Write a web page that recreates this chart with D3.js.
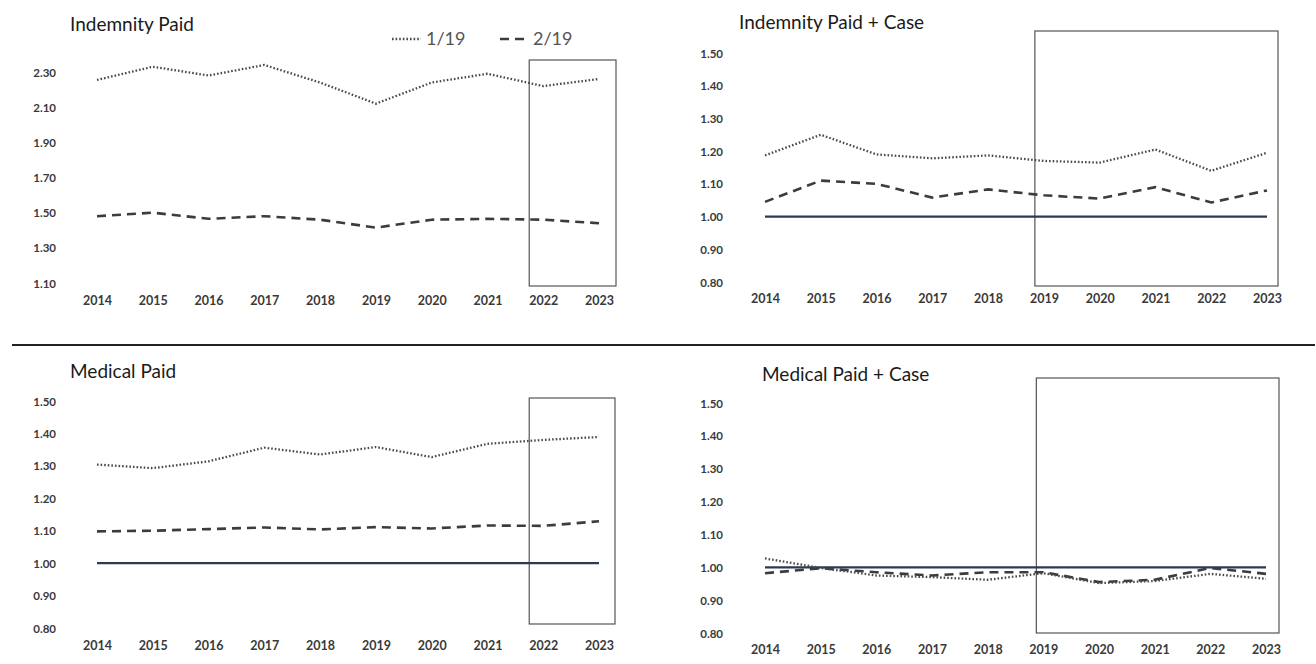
<!DOCTYPE html>
<html>
<head>
<meta charset="utf-8">
<script src="https://cdn.jsdelivr.net/npm/d3@7"></script>
<style>
  html, body { margin: 0; padding: 0; background: #ffffff; }
  svg { display: block; }
</style>
</head>
<body>
<svg id="chart" width="1316" height="664"></svg>
<script>
// ---------- DATA ----------
const years = [2014, 2015, 2016, 2017, 2018, 2019, 2020, 2021, 2022, 2023];
const seriesNames = ["1/19", "2/19"];

const indemPaid_119 = [2.255, 2.33, 2.28, 2.34, 2.24, 2.12, 2.24, 2.29, 2.22, 2.26];
const indemPaid_219 = [1.48, 1.50, 1.465, 1.48, 1.46, 1.415, 1.46, 1.465, 1.46, 1.44];

const indemCase_119 = [1.187, 1.25, 1.19, 1.178, 1.187, 1.17, 1.165, 1.205, 1.14, 1.195];
const indemCase_219 = [1.045, 1.11, 1.10, 1.058, 1.083, 1.065, 1.055, 1.09, 1.043, 1.08];

const medPaid_119 = [1.304, 1.293, 1.314, 1.356, 1.335, 1.358, 1.327, 1.368, 1.38, 1.389];
const medPaid_219 = [1.098, 1.10, 1.105, 1.11, 1.104, 1.111, 1.107, 1.116, 1.115, 1.129];

const medCase_119 = [1.027, 0.998, 0.975, 0.97, 0.962, 0.982, 0.952, 0.958, 0.98, 0.965];
const medCase_219 = [0.982, 0.997, 0.985, 0.975, 0.985, 0.985, 0.955, 0.962, 0.998, 0.98];

const ticksIndemPaid = [1.10, 1.30, 1.50, 1.70, 1.90, 2.10, 2.30];
const ticksOther = [0.80, 0.90, 1.00, 1.10, 1.20, 1.30, 1.40, 1.50];

const titles = ["Indemnity Paid", "Indemnity Paid + Case", "Medical Paid", "Medical Paid + Case"];
const baselineValue = 1.00;

// ---------- LAYOUT ----------
const svg = d3.select("#chart");
const FONT = "Lato, 'Open Sans', 'DejaVu Sans', sans-serif";

const panels = [
  { title: titles[0], titleX: 70, titleY: 31, s1: indemPaid_119, s2: indemPaid_219, ticks: ticksIndemPaid,
    domain: [1.10, 2.30], x0: 97, x1: 599, yBot: 283, yTop: 72, tickRight: 56, xLabelY: 308,
    baseline: false, boxYear: 2022, boxL: -14, boxR: 17, boxTop: 60, boxBot: 286, legend: true },
  { title: titles[1], titleX: 739, titleY: 29, s1: indemCase_119, s2: indemCase_219, ticks: ticksOther,
    domain: [0.80, 1.50], x0: 765, x1: 1267, yBot: 282, yTop: 53, tickRight: 723, xLabelY: 306,
    baseline: true, boxYear: 2019, boxL: -9, boxR: 11, boxTop: 31, boxBot: 286, legend: false },
  { title: titles[2], titleX: 70, titleY: 378, s1: medPaid_119, s2: medPaid_219, ticks: ticksOther,
    domain: [0.80, 1.50], x0: 97, x1: 599, yBot: 628, yTop: 401, tickRight: 56, xLabelY: 653,
    baseline: true, boxYear: 2022, boxL: -14, boxR: 16, boxTop: 398, boxBot: 624, legend: false },
  { title: titles[3], titleX: 762, titleY: 381, s1: medCase_119, s2: medCase_219, ticks: ticksOther,
    domain: [0.80, 1.50], x0: 765, x1: 1266, yBot: 633, yTop: 403, tickRight: 723, xLabelY: 657,
    baseline: true, boxYear: 2019, boxL: -7, boxR: 13, boxTop: 378, boxBot: 633, legend: false }
];

const styles = {
  dotted: { stroke: "#4a4a4a", width: 2.3, dash: "1.6,2.0" },
  dashed: { stroke: "#3c3c3c", width: 2.6, dash: "9,6" },
  solid:  { stroke: "#2e3857", width: 2.2 }
};

// separator line
svg.append("line")
  .attr("x1", 12).attr("x2", 1315)
  .attr("y1", 345).attr("y2", 345)
  .attr("stroke", "#222").attr("stroke-width", 2);

panels.forEach(p => {
  const g = svg.append("g");
  const x = d3.scalePoint().domain(years).range([p.x0, p.x1]);
  const y = d3.scaleLinear().domain(p.domain).range([p.yBot, p.yTop]);

  // title
  g.append("text")
    .attr("x", p.titleX).attr("y", p.titleY)
    .attr("font-family", FONT).attr("font-size", 19)
    .attr("fill", "#1a1a1a")
    .text(p.title);

  // y axis labels
  const yAxis = d3.axisLeft(y).tickValues(p.ticks).tickFormat(d3.format(".2f")).tickSize(0).tickPadding(0);
  const ya = g.append("g").attr("transform", `translate(${p.tickRight},0)`).call(yAxis);
  ya.select(".domain").remove();
  ya.selectAll("text")
    .attr("font-family", FONT).attr("font-size", 11.5).attr("font-weight", "bold")
    .attr("fill", "#3a3a3a").attr("dy", "0.35em");

  // x axis labels
  const xAxis = d3.axisBottom(x).tickSize(0).tickPadding(0).tickFormat(d3.format("d"));
  const xa = g.append("g").attr("transform", `translate(0,${p.xLabelY - 12})`).call(xAxis);
  xa.select(".domain").remove();
  xa.selectAll("text")
    .attr("font-family", FONT).attr("font-size", 12.5).attr("font-weight", "bold")
    .attr("fill", "#3a3a3a");

  // highlight box
  const bx0 = x(p.boxYear) + p.boxL;
  const bx1 = x(years[years.length - 1]) + p.boxR;
  g.append("rect")
    .attr("x", bx0).attr("y", p.boxTop)
    .attr("width", bx1 - bx0).attr("height", p.boxBot - p.boxTop)
    .attr("fill", "none").attr("stroke", "#555").attr("stroke-width", 1.2);

  const line = d3.line().x((d, i) => x(years[i])).y(d => y(d));

  if (p.baseline) {
    g.append("path")
      .datum(years.map(() => baselineValue))
      .attr("d", line)
      .attr("fill", "none")
      .attr("stroke", styles.solid.stroke)
      .attr("stroke-width", styles.solid.width);
  }

  g.append("path")
    .datum(p.s2)
    .attr("d", line)
    .attr("fill", "none")
    .attr("stroke", styles.dashed.stroke)
    .attr("stroke-width", styles.dashed.width)
    .attr("stroke-dasharray", styles.dashed.dash);

  g.append("path")
    .datum(p.s1)
    .attr("d", line)
    .attr("fill", "none")
    .attr("stroke", styles.dotted.stroke)
    .attr("stroke-width", styles.dotted.width)
    .attr("stroke-dasharray", styles.dotted.dash);

  if (p.legend) {
    const lg = g.append("g");
    const items = [
      { name: seriesNames[0], st: styles.dotted, lx: 392, lw: 29, tx: 426 },
      { name: seriesNames[1], st: styles.dashed, lx: 500, lw: 30, tx: 533 }
    ];
    items.forEach(it => {
      lg.append("line")
        .attr("x1", it.lx).attr("x2", it.lx + it.lw)
        .attr("y1", 39).attr("y2", 39)
        .attr("stroke", it.st.stroke).attr("stroke-width", it.st.width)
        .attr("stroke-dasharray", it.st.dash);
      lg.append("text")
        .attr("x", it.tx).attr("y", 45)
        .attr("font-family", FONT).attr("font-size", 18)
        .attr("fill", "#555")
        .text(it.name);
    });
  }
});
</script>
</body>
</html>
